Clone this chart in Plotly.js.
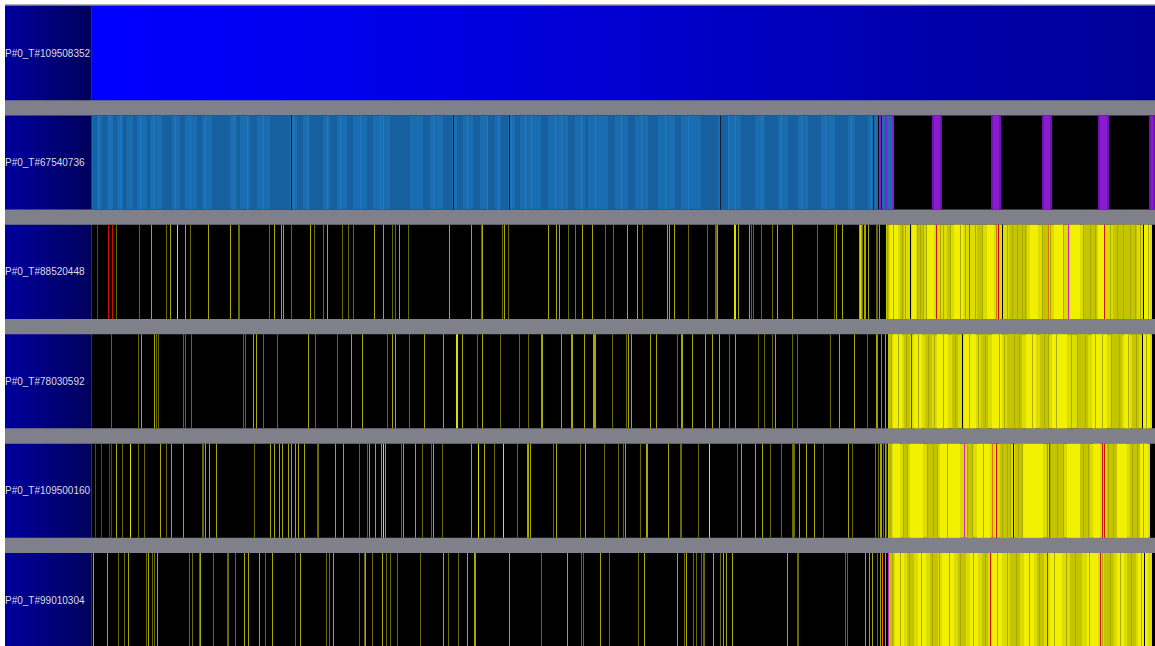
<!DOCTYPE html>
<html><head><meta charset="utf-8">
<script src="https://cdn.plot.ly/plotly-3.0.1.min.js"></script>
<style>html,body{margin:0;padding:0;background:#fff;overflow:hidden}</style>
</head><body><div id="chart" style="width:1155px;height:646px"></div>
<script>
// ---- thread labels (rows, top to bottom) ----
const threads = ['P#0_T#109508352','P#0_T#67540736','P#0_T#88520448','P#0_T#78030592','P#0_T#109500160','P#0_T#99010304'];
const traceStart = 0, traceEnd = 1063;

// ---- row 2 : running state + end bursts ----
const r2RunEnd = 782;
const r2DarkStart = [1,10,21,31,41,55,70,88,105,120,145,158,178,205,218,238,255,275,298,331,351,365,381,396,409,423,449,476,493,516,536,556,583,609,629,649,673,696,716,743,763];
const r2DarkEnd   = [5,15,25,35,45,58,80,93,110,138,148,165,198,211,231,245,261,281,318,338,360,371,388,403,416,428,456,483,496,523,543,566,589,626,636,663,686,706,729,756,776];
const r2Light = [6,18,28,48,61,83,98,113,141,155,171,201,215,235,248,268,288,291,341,375,395,406,419,433,439,463,469,489,503,529,549,573,596,636,643,669,689,709,733,759,779];
const r2Gap = [199,361,417,628,781];
const r2MixBlueStart = [782,790,795], r2MixBlueEnd = [786,793,800];
const r2PurpleStart = [787,793,800,840,899,950,1006,1057];
const r2PurpleEnd   = [789,795,802,850,909,960,1017,1063];

// ---- row 3 ----
const r3Hi  = [85,642,643,768];
const r3Mid = [59,78,93,116,138,182,189,191,218,235,282,291,307,357,379,390,412,456,464,467,490,500,535,545,575,577,582,625,646,657,685,700,744,750,769,773,776,787,767,772];
const r3Lo  = [24,47,74,98,146,147,177,199,222,231,250,256,261,300,303,316,389,410,416,476,513,521,550,596,615,623,624,659,661,669,680,725,742,784,770,785];
const r3Red = [5,16,20,844,906,1012];
const r3Magenta = [483,877,976];
const r3Orange = [904,956];
const r3Black = [818,910,1051];
const r3DenseStart = 794, r3DenseEnd = 1060;
const r3DarkS = [794,808,826,855,885,917,951,991,1021];
const r3DarkE = [797,812,832,858,891,935,957,1005,1045];
const r3BrightS = [798,820,835,862,895,938,962,978,1006,1051];
const r3BrightE = [806,824,842,871,902,946,971,988,1012,1058];
const r3Fine = [795,801,810,813,825,828,831,834,848,851,858,868,873,883,890,915,920,925,930,933,950,958,971,991,998,1003,1018,1025,1031,1038,1043,1048,1056];

// ---- row 4 ----
const r4Hi  = [364,365];
const r4Mid = [49,62,161,164,216,259,270,300,303,332,351,370,390,449,450,469,479,480,492,501,502,503,536,539,558,564,589,590,600,613,620,627,643,683,747,762,784,793];
const r4Lo  = [19,46,64,66,91,93,99,151,153,171,185,223,245,295,317,385,408,427,436,520,534,585,637,666,672,680,700,705,738,775];
const r4Red = [819];
const r4Magenta = [];
const r4Orange = [785,789];
const r4Black = [870,1050];
const r4DenseStart = 796, r4DenseEnd = 1060;
const r4DarkS = [796,812,833,860,889,915,948,986,1020,1040];
const r4DarkE = [800,818,840,866,896,930,956,996,1030,1047];
const r4BrightS = [801,822,845,872,900,934,960,1000,1032,1050];
const r4BrightE = [810,830,856,884,910,944,975,1015,1038,1058];
const r4Fine = [799,806,814,826,836,842,851,863,877,886,893,907,912,922,927,940,952,956,964,979,985,993,1003,1010,1019,1027,1036,1044,1054];

// ---- row 5 ----
const r5Hi  = [38,291,386,411,617];
const r5Mid = [24,68,79,91,113,117,124,178,182,187,190,196,199,203,206,212,243,251,277,283,289,293,311,323,341,379,392,435,436,438,464,493,533,554,555,576,649,663,670,707,714,722,756,788,789,793];
const r5Lo  = [30,46,52,74,110,111,162,225,226,267,275,309,330,339,350,402,425,461,488,512,526,531,548,588,589,606,645,678,689,700,702,731,760,786,791,794];
const r5Red = [3,9,17,19,904,957,1010,1012];
const r5Magenta = [701,783,872];
const r5Orange = [900,955];
const r5Black = [921];
const r5DenseStart = 796, r5DenseEnd = 1058;
const r5DarkS = [796,811,835,875,908,923,958,988,1015,1038];
const r5DarkE = [800,816,845,881,918,931,971,998,1025,1048];
const r5BrightS = [801,818,848,885,931,975,1001,1025,1048];
const r5BrightE = [808,831,868,898,951,988,1008,1035,1056];
const r5Fine = [798,811,815,835,841,845,855,875,880,891,910,915,918,926,930,958,965,971,991,996,1016,1021,1040,1045,1051];

// ---- row 6 ----
const r6Hi  = [];
const r6Mid = [1,15,36,56,65,108,152,156,167,180,208,241,273,290,351,375,382,383,417,475,508,552,585,594,621,631,634,640,695,773,777,780,788,793];
const r6Lo  = [26,32,54,60,62,97,100,107,121,135,136,143,173,203,234,237,267,272,280,294,298,305,328,356,366,449,489,491,517,546,592,601,604,609,611,612,628,705,706,753,755,785];
const r6Red = [898,955,1008];
const r6Magenta = [796];
const r6Orange = [790];
const r6Black = [1052];
const r6DenseStart = 797, r6DenseEnd = 1060;
const r6DarkS = [797,815,838,866,890,918,945,978,1012,1035];
const r6DarkE = [802,822,846,874,896,928,952,990,1022,1044];
const r6BrightS = [803,826,850,878,900,932,958,995,1025,1046];
const r6BrightE = [812,834,862,886,910,942,970,1006,1032,1056];
const r6Fine = [800,808,817,829,840,847,857,868,881,893,905,915,924,937,947,962,974,983,997,1010,1018,1028,1039,1049];

// ---------- builders ----------
const ROWH = 0.86;
function center(r){ return r + ROWH/2; }
function spanTrace(row, starts, ends, color){
  return {type:'bar', orientation:'h', y:starts.map(()=>center(row)), base:starts,
    x:starts.map((s,i)=>ends[i]-s), width:ROWH, marker:{color:color, line:{width:0, color:color}},
    hoverinfo:'skip', showlegend:false};
}
function eventTrace(row, starts, color, dur){
  dur = dur || 1;
  return spanTrace(row, starts, starts.map(s=>s+dur), color);
}
function gradTrace(row, x0, x1, scale){
  return {type:'scatter', mode:'lines', x:[x0,x1,x1,x0,x0], y:[row,row,row+ROWH,row+ROWH,row],
    fill:'toself', line:{width:0}, fillgradient:{type:'horizontal', colorscale:scale},
    hoverinfo:'skip', showlegend:false};
}

const traces = [];
// label panels
threads.forEach((t,i)=>{
  traces.push(gradTrace(i, -87, -1, [[0,'#00009e'],[1,'#00005c']]));
  traces.push(spanTrace(i, [-1], [0], '#2a2a78'));
});
// row 1
traces.push(gradTrace(0, traceStart, traceEnd, [[0,'#0000ff'],[0.2,'#0000f0'],[0.5,'#0000d0'],[0.8,'#0000aa'],[1,'#000098']]));
// row 2
traces.push(spanTrace(1, [traceStart], [traceEnd], '#000000'));
traces.push(spanTrace(1, [traceStart], [r2RunEnd], '#1b6db2'));
traces.push(spanTrace(1, r2DarkStart, r2DarkEnd, '#17609f'));
traces.push(eventTrace(1, r2Light, '#2079c4'));
traces.push(eventTrace(1, r2Gap, '#0a1830'));
traces.push(spanTrace(1, r2MixBlueStart, r2MixBlueEnd, '#1b6db2'));
traces.push(spanTrace(1, r2PurpleStart, r2PurpleEnd, '#7012b4'));
traces.push(spanTrace(1, r2PurpleStart.map(s=>s+2), r2PurpleEnd.map(e=>e-2), '#8a1cd0'));

const rowsData = [
  [2, r3Hi, r3Mid, r3Lo, r3Red, r3Magenta, r3Orange, r3Black, r3DenseStart, r3DenseEnd, r3DarkS, r3DarkE, r3BrightS, r3BrightE, r3Fine],
  [3, r4Hi, r4Mid, r4Lo, r4Red, r4Magenta, r4Orange, r4Black, r4DenseStart, r4DenseEnd, r4DarkS, r4DarkE, r4BrightS, r4BrightE, r4Fine],
  [4, r5Hi, r5Mid, r5Lo, r5Red, r5Magenta, r5Orange, r5Black, r5DenseStart, r5DenseEnd, r5DarkS, r5DarkE, r5BrightS, r5BrightE, r5Fine],
  [5, r6Hi, r6Mid, r6Lo, r6Red, r6Magenta, r6Orange, r6Black, r6DenseStart, r6DenseEnd, r6DarkS, r6DarkE, r6BrightS, r6BrightE, r6Fine]
];
rowsData.forEach(d=>{
  const [row, hi, mid, lo, red, mag, org, blk, ds, de, dkS, dkE, brS, brE, fine] = d;
  traces.push(spanTrace(row, [traceStart], [traceEnd], '#000000'));
  traces.push(eventTrace(row, lo, '#6a6a00'));
  traces.push(eventTrace(row, mid, '#a8a800'));
  traces.push(eventTrace(row, hi, '#e0e000'));
  traces.push(spanTrace(row, [ds], [de], '#dcdc00'));
  traces.push(spanTrace(row, dkS, dkE, '#c4c400'));
  traces.push(spanTrace(row, brS, brE, '#f0f000'));
  traces.push(eventTrace(row, fine, '#a8a800'));
  traces.push(eventTrace(row, blk, '#000000'));
  traces.push(eventTrace(row, red, '#d01000'));
  traces.push(eventTrace(row, mag, '#d020d0'));
  traces.push(eventTrace(row, org, '#e07000'));
});

const annotations = threads.map((t,i)=>({
  x:0, xref:'paper', y:center(i), yref:'y', xanchor:'left', yanchor:'middle',
  borderpad:0, borderwidth:0,
  text:t, showarrow:false, font:{family:'Liberation Sans, Arial, sans-serif', size:10, color:'#dcdce8'}
}));

const layout = {
  width:1155, height:646, margin:{l:5, r:0, t:5, b:0, pad:0},
  paper_bgcolor:'#ffffff', plot_bgcolor:'#80808a',
  barmode:'overlay', showlegend:false, hovermode:false,
  xaxis:{range:[-87, traceEnd], visible:false, showgrid:false, zeroline:false, fixedrange:true},
  yaxis:{range:[5.85, -0.01], visible:false, showgrid:false, zeroline:false, fixedrange:true},
  annotations:annotations,
  shapes:[{type:'line', xref:'paper', yref:'paper', x0:0, x1:1, y0:1, y1:1, line:{color:'#5a5a72', width:1}}]
};
Plotly.newPlot('chart', traces, layout, {staticPlot:true, displayModeBar:false});
</script>
</body></html>
